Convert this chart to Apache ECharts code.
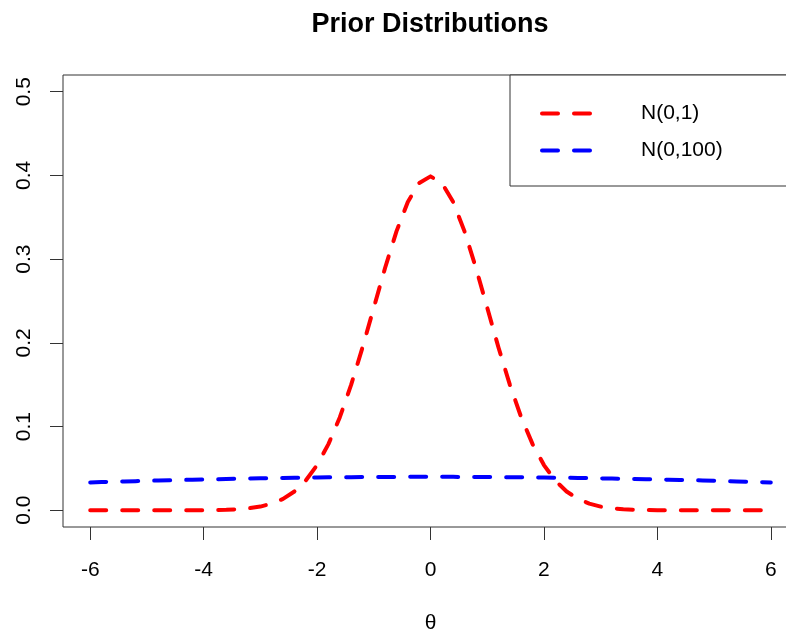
<!DOCTYPE html>
<html><head><meta charset="utf-8">
<script src="https://cdn.jsdelivr.net/npm/echarts@6/dist/echarts.min.js"></script>
<style>html,body{margin:0;padding:0;background:#fff}#c{width:786px;height:633px}</style>
</head><body><div id="c"></div>
<script>
var titleText = 'Prior Distributions';
var xName = 'θ';
var seriesNames = ['N(0,1)', 'N(0,100)'];
var xTicks = [-6, -4, -2, 0, 2, 4, 6];
var yTicks = [0, 0.1, 0.2, 0.3, 0.4, 0.5];
var thetaValues = [-6,-5.8,-5.6,-5.4,-5.2,-5,-4.8,-4.6,-4.4,-4.2,-4,-3.8,-3.6,-3.4,-3.2,-3,-2.8,-2.6,-2.4,-2.2,-2,-1.8,-1.6,-1.4,-1.2,-1,-0.8,-0.6,-0.4,-0.2,
  0,0.2,0.4,0.6,0.8,1,1.2,1.4,1.6,1.8,2,2.2,2.4,2.6,2.8,3,3.2,3.4,3.6,3.8,4,4.2,4.4,4.6,4.8,5,5.2,5.4,5.6,5.8,6];
var densityN01 = [0,0,0,0,0,0,0,0,0,0,0.0001,0.0003,0.0006,0.0012,0.0024,0.0044,0.0079,0.0136,0.0224,0.0355,0.0540,0.0790,0.1109,0.1497,0.1942,0.2420,0.2897,0.3332,0.3683,0.3910,
  0.3989,0.3910,0.3683,0.3332,0.2897,0.2420,0.1942,0.1497,0.1109,0.0790,0.0540,0.0355,0.0224,0.0136,0.0079,0.0044,0.0024,0.0012,0.0006,0.0003,0.0001,0,0,0,0,0,0,0,0,0,0];
var densityN0100 = [0.0333,0.0337,0.0341,0.0345,0.0348,0.0352,0.0356,0.0359,0.0362,0.0365,0.0368,0.0371,0.0374,0.0377,0.0379,0.0381,0.0384,0.0386,0.0388,0.0389,0.0391,0.0393,0.0394,0.0395,0.0396,0.0397,0.0398,0.0398,0.0399,0.0399,
  0.0399,0.0399,0.0399,0.0398,0.0398,0.0397,0.0396,0.0395,0.0394,0.0393,0.0391,0.0389,0.0388,0.0386,0.0384,0.0381,0.0379,0.0377,0.0374,0.0371,0.0368,0.0365,0.0362,0.0359,0.0356,0.0352,0.0348,0.0345,0.0341,0.0337,0.0333];

function zip(xs, ys) { return xs.map(function (x, i) { return [x, ys[i]]; }); }
var FONT = 'Liberation Sans, Arial, sans-serif';
var dash = [16, 16];
var chart = echarts.init(document.getElementById('c'), null, {renderer: 'canvas'});
chart.setOption({
  animation: false,
  backgroundColor: '#fff',
  title: {
    text: titleText, left: 425, top: 6, textAlign: 'center',
    textStyle: {fontFamily: FONT, fontSize: 27, fontWeight: 'bold', color: '#000'}
  },
  grid: {left: 63, top: 75, width: 735, height: 452, show: true, borderColor: '#333', borderWidth: 1,
    backgroundColor: 'transparent', containLabel: false, outerBoundsMode: 'none'},
  legend: {
    orient: 'vertical', left: 510, top: 75,
    padding: [28, 80, 25, 30],
    itemWidth: 54, itemHeight: 14, itemGap: 16,
    borderColor: '#333', borderWidth: 1, backgroundColor: '#fff',
    textStyle: {fontFamily: FONT, fontSize: 21, color: '#000', padding: [0, 0, 0, 40]},
    itemStyle: {color: 'rgba(0,0,0,0)', borderWidth: 0, opacity: 0},
    lineStyle: {width: 4, type: dash, cap: 'round'},
    data: [seriesNames[0], seriesNames[1]]
  },
  xAxis: {
    type: 'value', min: -6.48, max: 6.48,
    name: xName, nameLocation: 'middle', nameGap: 86,
    nameTextStyle: {fontFamily: FONT, fontSize: 21, color: '#000'},
    axisLine: {show: false, onZero: false},
    splitLine: {show: false},
    axisTick: {show: true, inside: false, length: 13, lineStyle: {color: '#333', width: 1}, customValues: xTicks},
    axisLabel: {fontFamily: FONT, fontSize: 21, color: '#000', margin: 33, customValues: xTicks,
      formatter: function (v) { return String(v); }}
  },
  yAxis: {
    type: 'value', min: -0.02, max: 0.52,
    axisLine: {show: false, onZero: false},
    splitLine: {show: false},
    axisTick: {show: true, inside: false, length: 13, lineStyle: {color: '#333', width: 1}, customValues: yTicks},
    axisLabel: {fontFamily: FONT, fontSize: 21, color: '#000', margin: 28, rotate: 90, customValues: yTicks,
      formatter: function (v) { return v.toFixed(1); }}
  },
  series: [
    {name: seriesNames[0], type: 'line', data: zip(thetaValues, densityN01), showSymbol: false, symbol: 'none', smooth: false,
      lineStyle: {color: '#ff0000', width: 4, type: dash, cap: 'round', join: 'round'}, itemStyle: {color: '#ff0000'}},
    {name: seriesNames[1], type: 'line', data: zip(thetaValues, densityN0100), showSymbol: false, symbol: 'none', smooth: false,
      lineStyle: {color: '#0000ff', width: 4, type: dash, cap: 'round', join: 'round'}, itemStyle: {color: '#0000ff'}}
  ]
});
</script></body></html>
